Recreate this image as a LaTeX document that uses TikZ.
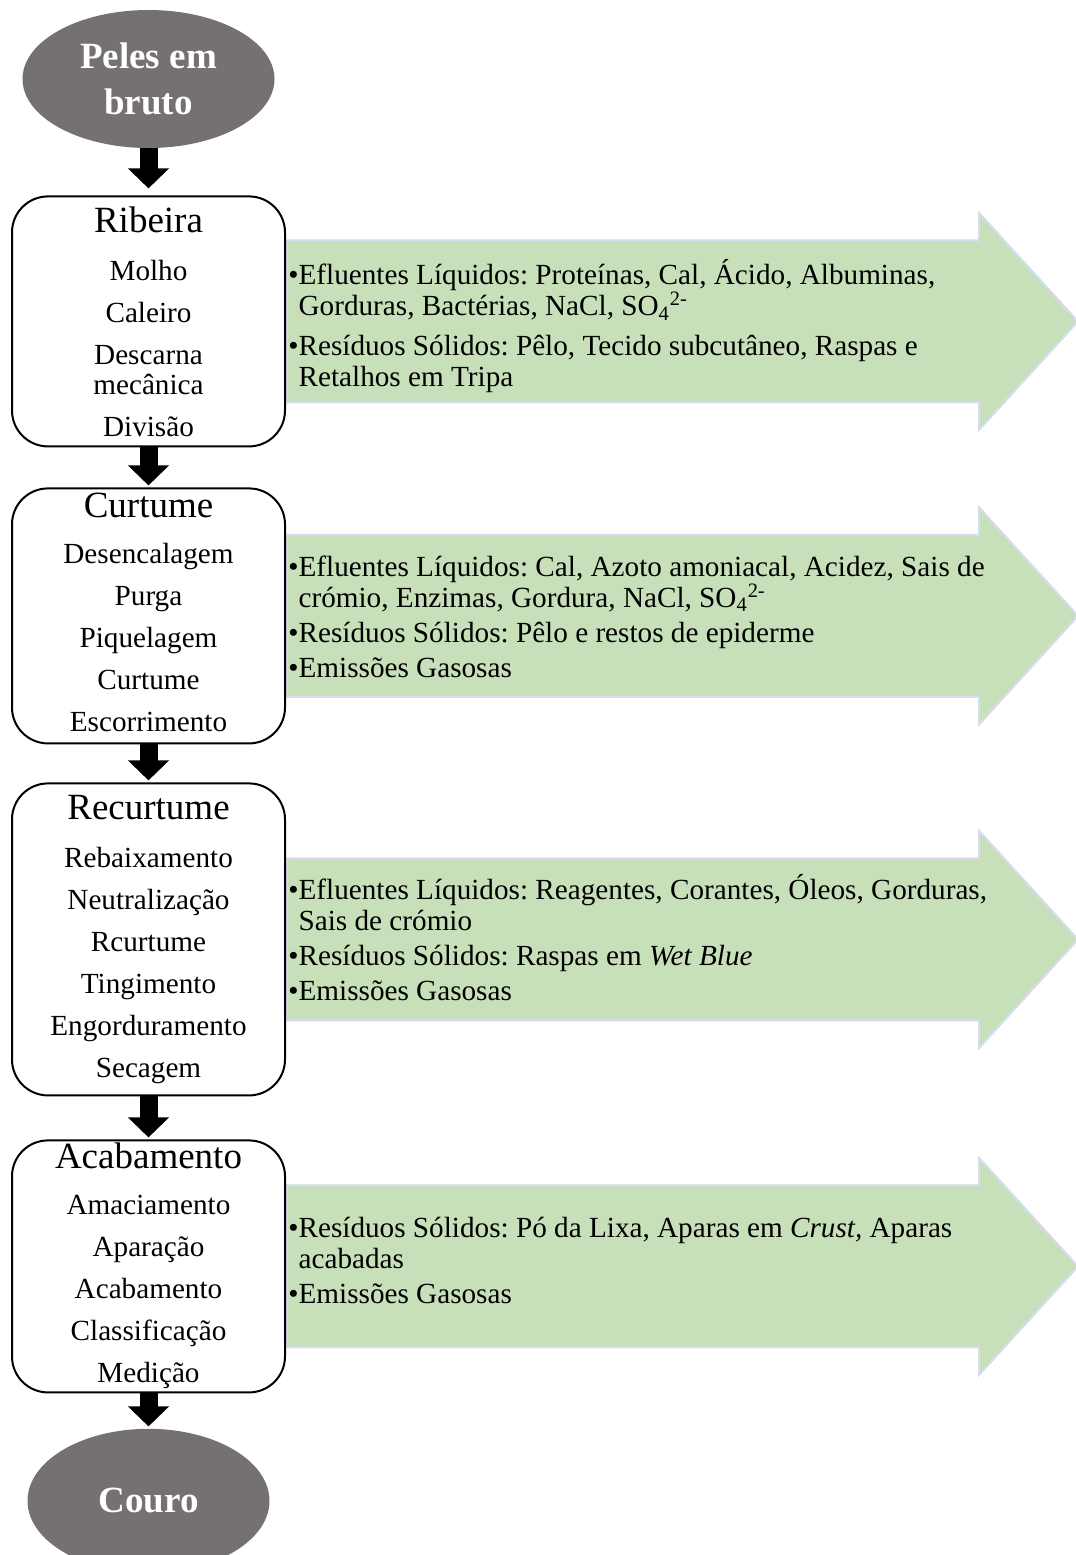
\documentclass[tikz,border=0pt]{standalone}
\usepackage{fontspec}
\setmainfont{Liberation Serif}
\frenchspacing
\usepackage{tikz}
\usetikzlibrary{shapes.geometric, shapes.arrows, arrows.meta, positioning, backgrounds}
\usepackage{xcolor}
\definecolor{rawgray}{RGB}{118,113,113}
\definecolor{wastegreen}{RGB}{200,224,185}
\definecolor{wasteedge}{RGB}{214,220,240}
\tikzstyle{terminal} = [ellipse, minimum width=126pt, minimum height=69pt, inner sep=0pt, fill=rawgray, text=white, align=center, font=\bfseries\fontsize{18.5}{23}\selectfont]
\tikzstyle{stage} = [rectangle, rounded corners=18pt, minimum width=136.5pt, inner sep=0pt, draw=black, line width=1pt, align=center, font=\fontsize{14.6}{21}\selectfont]
\tikzstyle{waste} = [single arrow, single arrow head extend=13.75pt, single arrow tip angle=95.3, minimum height=395.5pt, text height=40pt, text depth=40pt, text width=0pt, inner sep=0pt, fill=wastegreen, draw=wasteedge, line width=1pt, anchor=tail]
\tikzstyle{wastetext} = [inner sep=0pt, align=left, font=\fontsize{14.6}{15.5}\selectfont]
\tikzstyle{arrow} = [line width=9pt, -{Triangle[width=20pt,length=10pt]}, shorten >=1pt]
\newcommand{\stagetitle}[1]{{\fontsize{18.5}{21}\selectfont #1}}
\newcommand{\hang}{\phantom{•}}
\newcommand{\lift}{\rule[-4pt]{0pt}{0pt}}

\begin{document}
\begin{tikzpicture}
\useasboundingbox (0,0) rectangle (538pt,-777.5pt);

% Nodes
\node (pelesbruto) [terminal] at (74.25pt,-39.5pt) {Peles em\\bruto};
\node (ribeira) [stage, minimum height=125pt, below=23.5pt of pelesbruto] {\stagetitle{Ribeira}\\[3pt] Molho\\ Caleiro\\ Descarna\\[-6pt] mecânica\\ Divisão};
\node (curtume) [stage, minimum height=127.5pt, below=20pt of ribeira] {\stagetitle{Curtume}\\[2pt] Desencalagem\\ Purga\\ Piquelagem\\ Curtume\\ Escorrimento\lift};
\node (recurtume) [stage, minimum height=156pt, below=19pt of curtume] {\stagetitle{Recurtume}\\[3pt] Rebaixamento\\ Neutralização\\ Rcurtume\\ Tingimento\\ Engorduramento\\ Secagem};
\node (acabamento) [stage, minimum height=126pt, below=21.5pt of recurtume] {\stagetitle{Acabamento}\\[2pt] Amaciamento\\ Aparação\\ Acabamento\\ Classificação\\ Medição\lift};
\node (couro) [terminal, minimum width=121pt, minimum height=72pt, below=17.5pt of acabamento] {Couro};

% Outputs
\begin{scope}[on background layer]
\node (ribwaste) [waste] at (ribeira.east) {};
\node (curwaste) [waste] at (curtume.east) {};
\node (recwaste) [waste] at (recurtume.east) {};
\node (acawaste) [waste] at (acabamento.east) {};
\end{scope}
\node (ribtext) [wastetext, right=1pt of ribeira.east, yshift=-2.5pt] {•Efluentes Líquidos: Proteínas, Cal, Ácido, Albuminas,\\ \hang Gorduras, Bactérias, NaCl, SO\textsubscript{4}\textsuperscript{2-}\\[4.5pt] •Resíduos Sólidos: Pêlo, Tecido subcutâneo, Raspas e\\ \hang Retalhos em Tripa};
\node (curtext) [wastetext, right=1pt of curtume.east, yshift=-0.5pt] {•Efluentes Líquidos: Cal, Azoto amoniacal, Acidez, Sais de\\ \hang crómio, Enzimas, Gordura, NaCl, SO\textsubscript{4}\textsuperscript{2-}\\[2pt] •Resíduos Sólidos: Pêlo e restos de epiderme\\[2pt] •Emissões Gasosas};
\node (rectext) [wastetext, right=1pt of recurtume.east, yshift=1pt] {•Efluentes Líquidos: Reagentes, Corantes, Óleos, Gorduras,\\ \hang Sais de crómio\\[2pt] •Resíduos Sólidos: Raspas em \textit{Wet Blue}\\[2pt] •Emissões Gasosas};
\node (acatext) [wastetext, right=1pt of acabamento.east, yshift=3pt] {•Resíduos Sólidos: Pó da Lixa, Aparas em \textit{Crust,} Aparas\\ \hang acabadas\\[2pt] •Emissões Gasosas};

% Arrows
\draw [arrow, shorten >=3.5pt] (pelesbruto) -- (ribeira);
\draw [arrow] (ribeira) -- (curtume);
\draw [arrow] (curtume) -- (recurtume);
\draw [arrow] (recurtume) -- (acabamento);
\draw [arrow] (acabamento) -- (couro);

\end{tikzpicture}
\end{document}
